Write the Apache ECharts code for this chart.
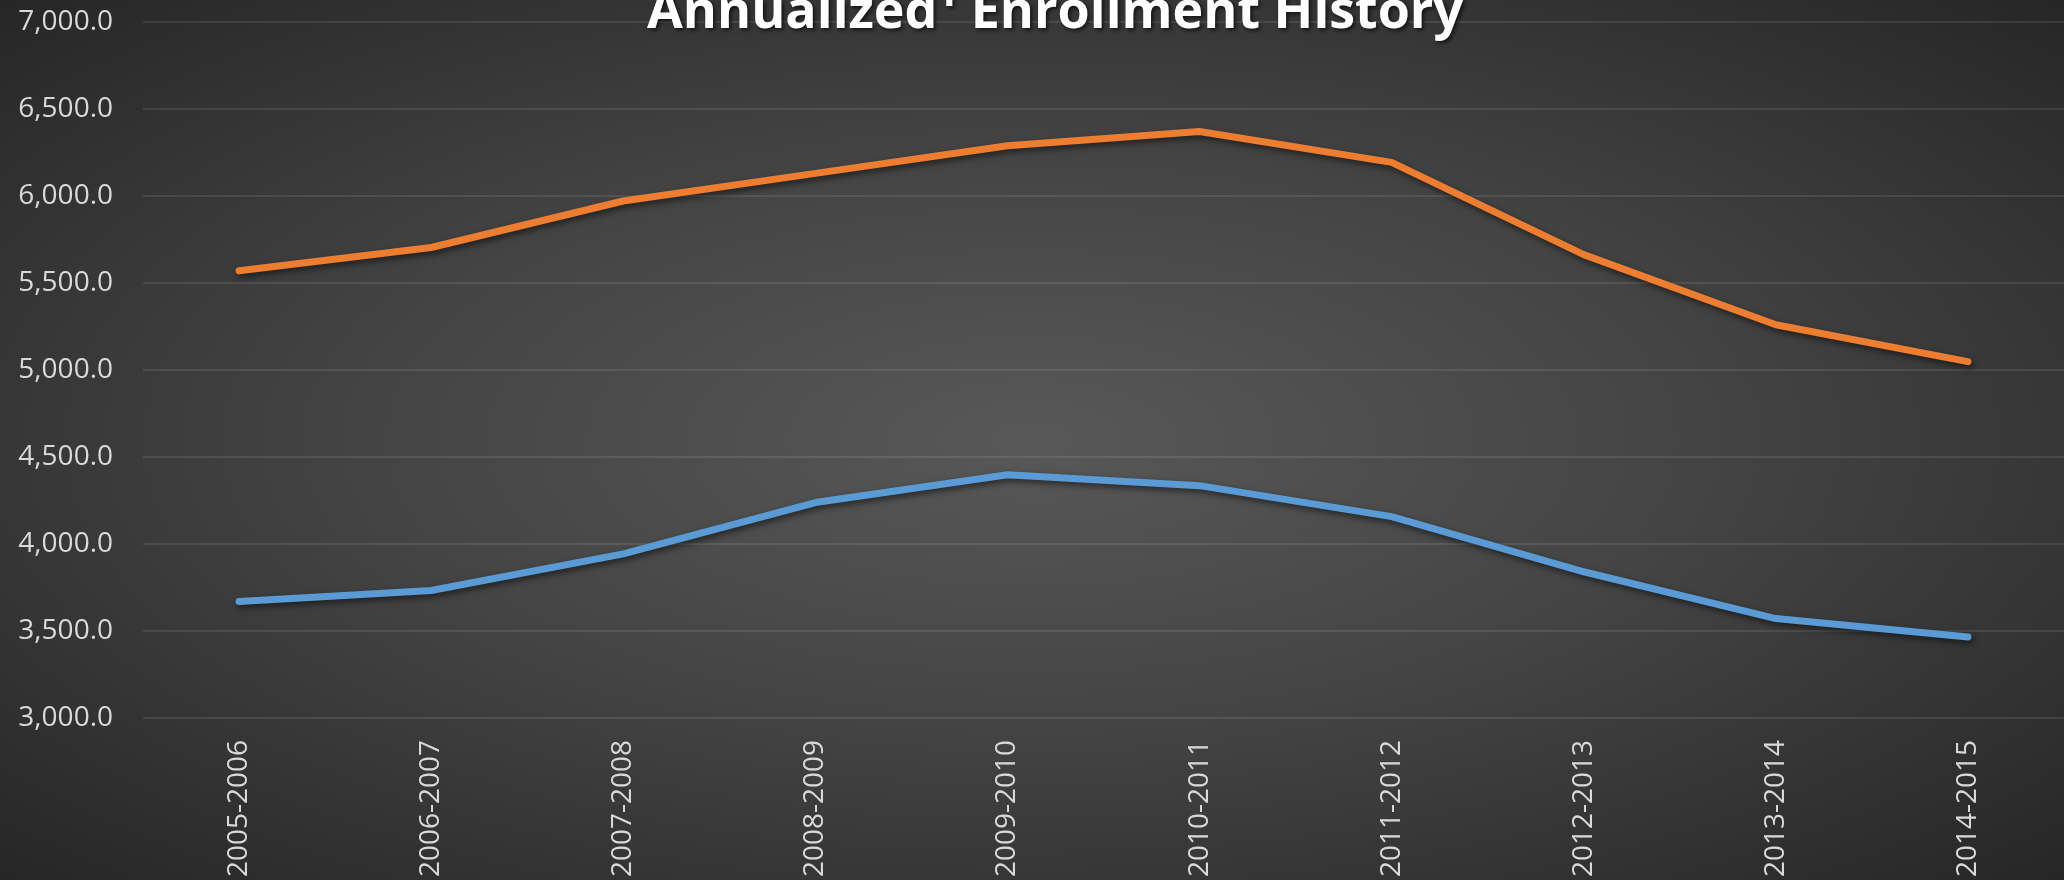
<!DOCTYPE html>
<html>
<head>
<meta charset="utf-8">
<script src="https://cdn.jsdelivr.net/npm/echarts@6/dist/echarts.min.js"></script>
<style>
  html, body { margin: 0; padding: 0; background: #2a2a2a; }
  #chart { width: 2064px; height: 880px; }
</style>
</head>
<body>
<div id="chart"></div>
<script>
  // school years on the x axis
  const years = ['2005-2006', '2006-2007', '2007-2008', '2008-2009', '2009-2010',
                 '2010-2011', '2011-2012', '2012-2013', '2013-2014', '2014-2015'];
  // annualized enrollment
  const upperLine = [5570, 5704, 5971, 6130, 6289, 6371, 6193, 5663, 5260, 5048];
  const lowerLine = [3669, 3732, 3943, 4238, 4398, 4335, 4157, 3840, 3571, 3465];
  const yMin = 3000, yMax = 7000, yStep = 500;

  function fmt(v) {
    // 7000 -> "7,000.0"
    let s = Math.round(v).toString().replace(/\B(?=(\d{3})+(?!\d))/g, ',');
    return s + '.0';
  }

  const chart = echarts.init(document.getElementById('chart'));
  const lineShadow = {
    shadowColor: 'rgba(0,0,0,0.55)',
    shadowBlur: 6,
    shadowOffsetX: 2,
    shadowOffsetY: 3
  };

  const option = {
    backgroundColor: '#262626',
    animation: false,
    graphic: [{
      type: 'rect',
      silent: true,
      z: -100,
      shape: { x: 0, y: 0, width: 880, height: 880 },
      scaleX: 2064 / 880,
      style: {
        fill: new echarts.graphic.RadialGradient(0.5, 0.5, 0.72, [
          { offset: 0, color: '#585858' },
          { offset: 0.45, color: '#444444' },
          { offset: 1, color: '#252525' }
        ])
      }
    }],
    title: {
      text: 'Annualized¹ Enrollment History',
      left: 1050,
      textAlign: 'center',
      top: -18,
      textStyle: {
        color: '#ffffff',
        fontFamily: 'Open Sans',
        fontWeight: 'bold',
        fontSize: 52,
        textShadowColor: 'rgba(0,0,0,0.7)',
        textShadowBlur: 4,
        textShadowOffsetX: 2,
        textShadowOffsetY: 2
      }
    },
    grid: {
      left: 143,
      width: 1936,
      top: 22,
      height: 698
    },
    xAxis: {
      type: 'category',
      data: years,
      boundaryGap: true,
      axisLine: { show: false },
      axisTick: { show: false },
      axisLabel: {
        rotate: 90,
        margin: 22,
        color: '#d9d9d9',
        fontFamily: 'Open Sans',
        fontSize: 28
      }
    },
    yAxis: {
      type: 'value',
      min: yMin,
      max: yMax,
      interval: yStep,
      axisLine: { show: false },
      axisTick: { show: false },
      axisLabel: {
        margin: 30,
        color: '#d9d9d9',
        fontFamily: 'Open Sans',
        fontSize: 28,
        formatter: fmt
      },
      splitLine: {
        lineStyle: { color: 'rgba(255,255,255,0.13)', width: 1.5 }
      }
    },
    series: [
      {
        name: 'upper',
        type: 'line',
        data: upperLine,
        symbol: 'none',
        lineStyle: Object.assign({ color: '#ED7D31', width: 7, cap: 'round', join: 'round' }, lineShadow)
      },
      {
        name: 'lower',
        type: 'line',
        data: lowerLine,
        symbol: 'none',
        lineStyle: Object.assign({ color: '#5B9BD5', width: 7, cap: 'round', join: 'round' }, lineShadow)
      }
    ]
  };
  chart.setOption(option);
</script>
</body>
</html>
